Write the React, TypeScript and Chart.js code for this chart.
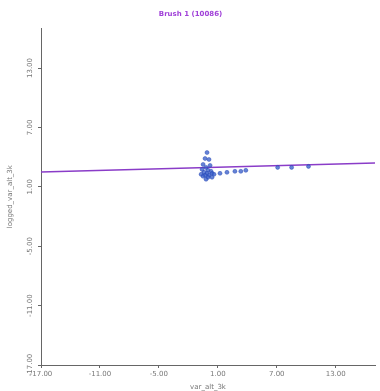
import React, { useEffect, useRef } from "react";
import { Chart, registerables } from "chart.js";

Chart.register(...registerables);

const titleText = "Brush 1 (10086)";
const xTitle = "var_alt_3k";
const yTitle = "logged_var_alt_3k";
const tickValues = [-17, -11, -5, 1, 7, 13];
const axisMin = -17;
const axisMax = 17;

const pointX = [-0.1, -0.3, 0.1, -0.5, 0.21, -0.2, -0.6, 0.0, 0.31, -0.4, -0.1, 0.41, -0.7, -0.3, 0.1, 0.61, -0.5, 0.0, 0.41, -0.2, 1.22, 1.93, 2.74, 3.34, 3.85, 7.09, 8.51, 10.23];
const pointY = [4.46, 3.86, 3.76, 3.26, 3.16, 2.96, 2.76, 2.66, 2.56, 2.46, 2.36, 2.36, 2.26, 2.16, 2.16, 2.26, 2.06, 1.96, 1.96, 1.76, 2.36, 2.46, 2.56, 2.56, 2.66, 2.96, 2.96, 3.06];

const lineX = [-17, 17];
const lineY = [2.5, 3.4];

const yTickPlugin = {
  id: "yTickLabels",
  afterDraw(chart: any) {
    const s = chart.scales.y;
    const ctx = chart.ctx;
    ctx.save();
    ctx.fillStyle = "#777";
    ctx.font = "7px 'DejaVu Sans'";
    ctx.textAlign = "center";
    ctx.textBaseline = "middle";
    s.ticks.forEach((t: any) => {
      const y = s.getPixelForValue(t.value);
      ctx.save();
      ctx.translate(chart.chartArea.left - 11, y);
      ctx.rotate(-Math.PI / 2);
      ctx.fillText(Number(t.value).toFixed(2), 0, 0);
      ctx.restore();
    });
    ctx.restore();
  },
};

export default function App() {
  const ref = useRef<HTMLCanvasElement | null>(null);
  useEffect(() => {
    if (!ref.current) return;
    const tickFont = { family: "DejaVu Sans", size: 7 };
    const chart = new Chart(ref.current, {
      type: "scatter",
      data: {
        datasets: [
          {
            label: "points",
            data: pointX.map((x, i) => ({ x, y: pointY[i] })),
            backgroundColor: "rgba(50,90,200,0.75)",
            borderColor: "rgba(40,70,180,0.9)",
            borderWidth: 0.5,
            pointRadius: 2,
          },
          {
            label: "fit",
            type: "line",
            data: lineX.map((x, i) => ({ x, y: lineY[i] })),
            borderColor: "#8a3cc8",
            borderWidth: 1.5,
            pointRadius: 0,
            fill: false,
          } as any,
        ],
      },
      options: {
        animation: false,
        responsive: false,
        layout: { padding: { left: 6, right: 5, top: 0, bottom: 0 } },
        plugins: {
          legend: { display: false },
          tooltip: { enabled: false },
          title: {
            display: true,
            text: titleText,
            color: "#a040d8",
            font: { family: "DejaVu Sans", size: 7, weight: "bold" },
            padding: { top: 10, bottom: 10 },
          },
        },
        scales: {
          x: {
            type: "linear",
            min: axisMin,
            max: axisMax,
            afterBuildTicks: (s: any) => {
              s.ticks = tickValues.map((v) => ({ value: v }));
            },
            afterFit: (s: any) => {
              s.height = 26;
            },
            ticks: {
              color: "#777",
              font: tickFont,
              padding: 2,
              maxRotation: 0,
              autoSkip: false,
              callback: (v: any) => Number(v).toFixed(2),
            },
            grid: { drawOnChartArea: false, drawTicks: true, tickLength: 3, color: "#666" },
            border: { color: "#666", width: 1 },
            title: { display: true, text: xTitle, color: "#777", font: tickFont, padding: 0 },
          },
          y: {
            type: "linear",
            min: axisMin,
            max: axisMax,
            afterBuildTicks: (s: any) => {
              s.ticks = tickValues.map((v) => ({ value: v }));
            },
            afterFit: (s: any) => {
              s.width = 35;
            },
            ticks: {
              color: "#777",
              font: tickFont,
              padding: 2,
              autoSkip: false,
              callback: () => "",
            },
            grid: { drawOnChartArea: false, drawTicks: true, tickLength: 3, color: "#666" },
            border: { color: "#666", width: 1 },
            title: { display: true, text: yTitle, color: "#777", font: tickFont, padding: 0 },
          },
        },
      },
      plugins: [yTickPlugin],
    });
    return () => chart.destroy();
  }, []);
  return (
    <div style={{ position: "fixed", left: 0, top: 0, width: 380, height: 391, background: "#fff" }}>
      <canvas ref={ref} width={380} height={391} style={{ width: 380, height: 391, display: "block" }} />
    </div>
  );
}
